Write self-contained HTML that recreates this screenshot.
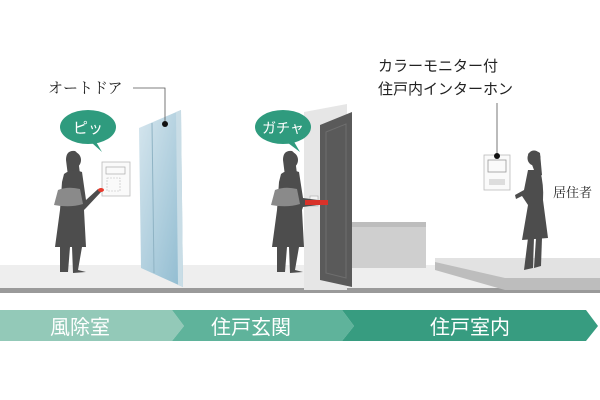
<!DOCTYPE html>
<html><head><meta charset="utf-8"><style>
html,body{margin:0;padding:0;background:#fff;}
svg{display:block;}
text{font-family:"Liberation Sans","Noto Sans CJK JP",sans-serif;}
.serif{font-family:"Liberation Serif","Noto Serif CJK SC",serif;}
</style></head><body>
<svg width="600" height="400" viewBox="0 0 600 400" xmlns="http://www.w3.org/2000/svg">
<defs>
<linearGradient id="glass" x1="0" y1="0" x2="1" y2="1">
<stop offset="0" stop-color="#d6e6ee"/><stop offset="1" stop-color="#8fbbd0"/>
</linearGradient>
</defs>
<!-- floor -->
<rect x="0" y="265" width="600" height="24" fill="#eeeeee"/>
<rect x="0" y="288" width="600" height="5" fill="#9a9a9a"/>
<!-- platform right -->
<polygon points="435,258 600,258 600,280 505,280 435,268" fill="#e2e2e2"/>
<polygon points="435,262 505,278 600,278 600,290 505,290 435,270" fill="#bdbdbd"/>
<!-- cabinet -->
<rect x="352" y="222" width="74" height="46" fill="#cfcfcf"/>
<rect x="352" y="222" width="74" height="5" fill="#bdbdbd"/>
<!-- door wall panel -->
<polygon points="304,112 347,104 347,290 304,290" fill="#e6e6e6"/>
<!-- door -->
<polygon points="320,125 352,112 352,287 320,280" fill="#5a5a5a"/>
<polygon points="326,132 346,124 346,278 326,273" fill="none" stroke="#6e6e6e" stroke-width="1"/>
<rect x="310" y="196" width="8" height="10" fill="#f4f4f4" stroke="#aaa" stroke-width="0.6"/>
<!-- glass door -->
<polygon points="139,128 181,110 183,287 141,268" fill="url(#glass)"/>
<line x1="152" y1="123" x2="154" y2="273" stroke="#8fb3c4" stroke-width="1"/>
<polygon points="176,112 181,110 183,287 178,285" fill="#c9dde6"/>
<!-- label オートドア -->
<text class="serif" x="48" y="93" font-size="15" fill="#222">オートドア</text>
<polyline points="133,88 165,88 165,123" fill="none" stroke="#555" stroke-width="0.8"/>
<circle cx="165" cy="124" r="3" fill="#111"/>
<!-- intercom 1 -->
<rect x="102" y="162" width="28" height="34" fill="#fafafa" stroke="#bbb" stroke-width="0.8"/>
<rect x="106" y="167" width="19" height="7" fill="none" stroke="#aaa" stroke-width="0.7"/>
<rect x="107" y="178" width="13" height="13" fill="none" stroke="#bbb" stroke-width="0.6" stroke-dasharray="2,1"/>
<!-- bubble 1 -->
<path d="M95,140 L102,152 L92,143 Z" fill="#2f9b7e"/>
<ellipse cx="88" cy="127" rx="28" ry="17" fill="#2f9b7e"/>
<text x="88" y="133" font-size="15" fill="#fff" text-anchor="middle">ピッ</text>
<!-- bubble 2 -->
<path d="M293,140 L300,152 L288,143 Z" fill="#2f9b7e"/>
<ellipse cx="283" cy="127" rx="28" ry="17" fill="#2f9b7e"/>
<text x="283" y="133" font-size="14" fill="#fff" text-anchor="middle">ガチャ</text>
<!-- woman 1 -->
<g fill="#4d4d4d">
<ellipse cx="74" cy="160" rx="7" ry="8"/>
<path d="M66,160 Q66,150 75,151 Q80,154 79,166 L80,174 L68,176 Z"/>
<path d="M64,174 Q72,168 82,172 L86,200 L98,189 L101,192 L86,208 L84,210 L86,247 L55,247 L60,210 L62,182 Z"/>
<path d="M60,247 L70,247 L68,272 L60,272 Z"/>
<path d="M72,247 L82,247 L78,270 L86,272 L73,273 Z"/>
</g>
<path d="M58,190 Q68,186 80,189 L83,204 Q70,208 54,205 Z" fill="#8a8a8a"/>
<ellipse cx="101" cy="190" rx="3" ry="2" fill="#e8392c"/>
<!-- woman 2 -->
<g fill="#4d4d4d">
<ellipse cx="291" cy="160" rx="7" ry="8"/>
<path d="M283,160 Q283,150 292,151 Q297,154 296,166 L297,174 L285,176 Z"/>
<path d="M281,174 Q289,168 299,172 L303,198 L318,200 L318,205 L303,207 L302,210 L304,247 L272,247 L277,210 L279,182 Z"/>
<path d="M277,247 L287,247 L285,272 L277,272 Z"/>
<path d="M289,247 L299,247 L295,270 L303,272 L290,273 Z"/>
</g>
<path d="M275,190 Q285,186 297,189 L300,204 Q287,208 271,205 Z" fill="#8a8a8a"/>
<rect x="305" y="200" width="23" height="5" fill="#d8322a"/>
<!-- intercom 3 -->
<text x="378" y="71" font-size="15" fill="#222">カラーモニター付</text>
<text x="378" y="94" font-size="15" fill="#222">住戸内インターホン</text>
<line x1="497" y1="103" x2="497" y2="155" stroke="#555" stroke-width="0.8"/>
<rect x="484" y="155" width="26" height="35" fill="#fafafa" stroke="#bbb" stroke-width="0.8"/>
<rect x="488" y="160" width="18" height="12" fill="none" stroke="#999" stroke-width="0.8"/>
<rect x="489" y="179" width="16" height="6" fill="#ddd"/>
<circle cx="497" cy="156" r="3" fill="#111"/>
<!-- woman 3 -->
<g fill="#4d4d4d">
<ellipse cx="534" cy="158" rx="6.5" ry="7.5"/>
<path d="M528,154 Q533,148 540,153 L542,175 L537,178 Z"/>
<path d="M528,170 L540,170 Q544,185 543,200 L548,238 L522,240 L528,205 L522,196 L516,199 L515,195 L524,190 Z"/>
<path d="M528,238 L534,238 L533,268 L524,270 Z"/>
<path d="M536,238 L542,238 L541,266 L534,268 Z"/>
</g>
<text class="serif" x="553" y="197" font-size="13" fill="#222">居住者</text>
<!-- band -->
<polygon points="0,310 172,310 184,326 172,341 0,341" fill="#93c9b8"/>
<polygon points="172,310 342,310 354,326 342,341 172,341 184,326" fill="#5fb39b"/>
<polygon points="342,310 586,310 598,326 586,341 342,341 354,326" fill="#379c80"/>
<text x="80" y="334" font-size="20" fill="#fff" text-anchor="middle">風除室</text>
<text x="251" y="334" font-size="20" fill="#fff" text-anchor="middle">住戸玄関</text>
<text x="470" y="334" font-size="20" fill="#fff" text-anchor="middle">住戸室内</text>
</svg>
</body></html>
